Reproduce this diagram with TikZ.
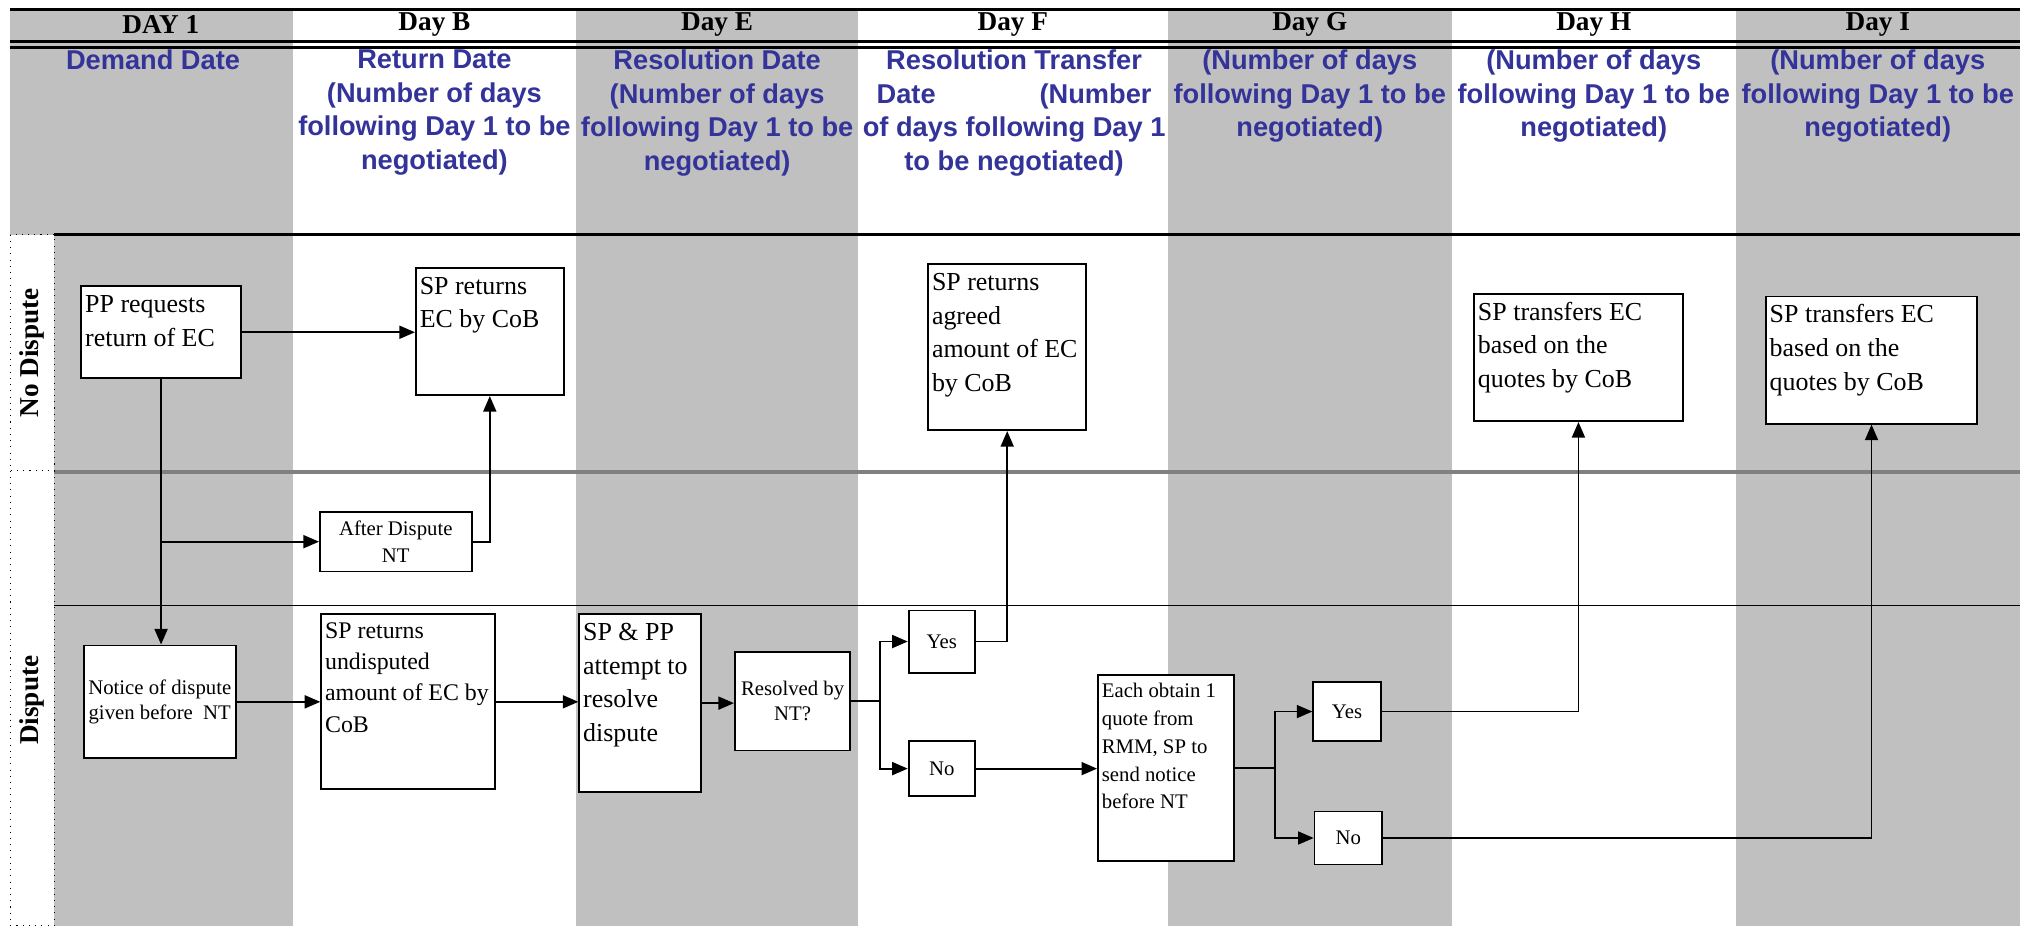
\documentclass[tikz,border=0pt]{standalone}
\usepackage{fontspec}
\setmainfont{Liberation Serif}
\newfontfamily\bluefont{Liberation Sans}
\usetikzlibrary{arrows.meta,calc}
\definecolor{colgray}{RGB}{192,192,192}
\definecolor{bluetxt}{RGB}{51,51,153}
\definecolor{lanegray}{RGB}{128,128,128}
\newcommand\topbox[3]{\parbox[c][#2][t]{#1}{\raggedright\strut#3}}
\begin{document}
\begin{tikzpicture}[x=0.5pt,y=-0.5pt,
  box/.style={draw, line width=0.7pt, fill=white, anchor=north west, inner xsep=1.5pt, inner ysep=1pt, font=\fontsize{10}{13}\selectfont},
  cbox/.style={draw, line width=0.7pt, fill=white, anchor=north west, inner sep=1pt, align=center, font=\fontsize{8}{10.5}\selectfont},
  conn/.style={line width=0.7pt},
  arr/.style={conn, -{Triangle[length=6pt,width=5pt]}},
  dayhdr/.style={font=\bfseries\fontsize{10.5}{12}\selectfont},
  subhdr/.style={anchor=north, inner sep=0pt, align=center, text=bluetxt, font=\bluefont\bfseries\fontsize{10.5}{13}\selectfont},
  lane/.style={font=\bfseries\fontsize{10.5}{12}\selectfont, rotate=90},
  thick line/.style={line width=1.1pt},
]
\useasboundingbox (0,0) rectangle (1560,714);
\fill[white] (0,0) rectangle (1560,714);
% column shading
\fill[colgray] (8,7) rectangle (226,181);
\fill[colgray] (42,181) rectangle (226,714);
\fill[colgray] (444,7) rectangle (662,714);
\fill[colgray] (901,7) rectangle (1120,714);
\fill[colgray] (1339,7) rectangle (1558,714);
% rules
\draw[thick line] (8,7) -- (1558,7);
\draw[thick line] (8,32) -- (1558,32);
\draw[thick line] (8,36.5) -- (1558,36.5);
\draw[thick line] (42,181) -- (1558,181);
\draw[lanegray, line width=1.2pt] (42,364) -- (1558,364);
\draw[line width=0.55pt] (42,467) -- (1558,467);
\draw[dotted, line width=0.4pt] (8,181) rectangle (42,363);
\draw[dotted, line width=0.4pt] (8,363) rectangle (42,713.5);
% lane labels
\node[lane] (lnd) at (25,272) {No Dispute};
\node[lane] (ld) at (25,540) {Dispute};
% day headers
\node[dayhdr] (h1) at (124,19) {DAY 1};
\node[dayhdr] (hB) at (335,19) {Day B};
\node[dayhdr] (hE) at (553,19) {Day E};
\node[dayhdr] (hF) at (781,19) {Day F};
\node[dayhdr] (hG) at (1010,19) {Day G};
\node[dayhdr] (hH) at (1229,19) {Day H};
\node[dayhdr] (hI) at (1448,19) {Day I};
% sub headers
\node[subhdr] (s1) at (118,38) {Demand Date};
\node[subhdr] (sB) at (335,38) {Return Date\\(Number of days\\following Day 1 to be\\negotiated)};
\node[subhdr] (sE) at (553,38) {Resolution Date\\(Number of days\\following Day 1 to be\\negotiated)};
\node[subhdr] (sF) at (782,38) {Resolution Transfer\\\makebox[106pt]{Date\hfill(Number}\\of days following Day 1\\to be negotiated)};
\node[subhdr] (sG) at (1010,38) {(Number of days\\following Day 1 to be\\negotiated)};
\node[subhdr] (sH) at (1229,38) {(Number of days\\following Day 1 to be\\negotiated)};
\node[subhdr] (sI) at (1448,38) {(Number of days\\following Day 1 to be\\negotiated)};
% boxes
\node[box] (pp) at (62,220) {\topbox{58.5pt}{33.5pt}{PP requests\\return of EC}};
\node[box] (spb) at (320,206) {\topbox{54pt}{47pt}{SP returns\\EC by CoB}};
\node[cbox, minimum width=58.5pt, minimum height=23pt] (after) at (246,394) {After Dispute\\NT};
\node[cbox, minimum width=58.5pt, minimum height=43.5pt, font=\fontsize{8}{9.5}\selectfont] (notice) at (64,497) {Notice of dispute\\given before~~NT};
\node[box, font=\fontsize{9.2}{12}\selectfont] (und) at (247,473) {\topbox{64pt}{65.5pt}{SP returns\\undisputed\\amount of EC by\\CoB}};
\node[box] (spp) at (446,473) {\topbox{44pt}{66.5pt}{SP \& PP\\attempt to\\resolve\\dispute}};
\node[cbox, minimum width=44.5pt, minimum height=38pt, font=\fontsize{8}{9.5}\selectfont] (res) at (566,502) {Resolved by\\NT?};
\node[cbox, minimum width=25.5pt, minimum height=24pt] (yes1) at (700,470) {Yes};
\node[cbox, minimum width=25.5pt, minimum height=21pt] (no1) at (700,571) {No};
\node[box] (agr) at (715,203) {\topbox{58pt}{62pt}{SP returns\\agreed\\amount of EC\\by CoB}};
\node[box, font=\fontsize{8}{10.75}\selectfont] (each) at (846,520) {\topbox{49.5pt}{69.5pt}{Each obtain 1\\quote from\\RMM, SP to\\send notice\\before NT}};
\node[cbox, minimum width=26pt, minimum height=23pt] (yes2) at (1012,525) {Yes};
\node[cbox, minimum width=26pt, minimum height=20.5pt] (no2) at (1013,625) {No};
\node[box] (trH) at (1136,226) {\topbox{77.5pt}{47pt}{SP transfers EC\\based on the\\quotes by CoB}};
\node[box] (trI) at (1361,228) {\topbox{78.5pt}{47pt}{SP transfers EC\\based on the\\quotes by CoB}};
% connectors
\draw[arr] (pp.east) -- (pp.east -| spb.west);
\draw[arr] (pp.south) -- (pp.south |- notice.north);
\draw[arr] (pp.south |- after.west) -- (after.west);
\draw[arr] (after.east) -| (spb.south);
\draw[arr] (notice.east) -- (notice.east -| und.west);
\draw[arr] (und.east) -- (und.east -| spp.west);
\draw[arr] (spp.east) -- (spp.east -| res.west);
\coordinate (rj) at ($(res.east)+(22,0)$);
\draw[conn] (res.east) -- (rj);
\draw[arr] (rj) |- (yes1.west);
\draw[arr] (rj) |- (no1.west);
\draw[arr] (yes1.east) -| (agr.south);
\draw[arr] (no1.east) -- (no1.east -| each.west);
\coordinate (ej) at ($(each.east)+(31,0)$);
\draw[conn] (each.east) -- (ej);
\draw[arr] (ej) |- (yes2.west);
\draw[arr] (ej) |- (no2.west);
\draw[arr] (yes2.east) -| (trH.south);
\draw[arr] (no2.east) -| (trI.south);
\end{tikzpicture}
\end{document}
